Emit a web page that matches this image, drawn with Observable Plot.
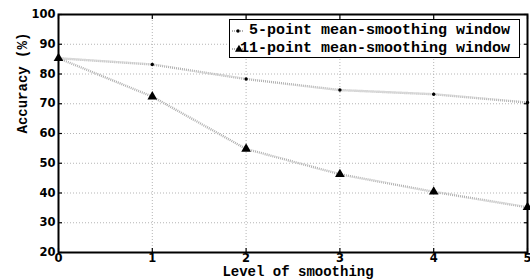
<!DOCTYPE html>
<html>
<head>
<meta charset="utf-8">
<script src="https://cdn.jsdelivr.net/npm/d3@7"></script>
<script src="https://cdn.jsdelivr.net/npm/@observablehq/plot@0.6"></script>
<style>
  html, body { margin: 0; padding: 0; background: #fff; }
  #wrap { position: relative; width: 530px; height: 280px; }
  #legend { position: absolute; left: 229px; top: 19px; width: 289px; height: 37px;
    border: 1.5px solid #000; background: #fff; box-sizing: content-box;
    font-family: "Liberation Mono", monospace; font-weight: bold; font-size: 15px; }
  .row { position: absolute; left: 0; right: 0; height: 18px; }
  .row svg { position: absolute; left: 0; top: 0; }
  .row span { position: absolute; right: 9px; top: 0; line-height: 18px; white-space: pre; }
</style>
</head>
<body>
<div id="wrap"><div id="chart"></div><div id="legend"></div></div>
<script>
const levels = [0, 1, 2, 3, 4, 5];
const fivePoint = [85.3, 83.2, 78.3, 74.6, 73.2, 70.4];
const elevenPoint = [85.3, 72.4, 54.8, 46.3, 40.4, 35.2];
const seriesNames = ["5-point mean-smoothing window", "11-point mean-smoothing window"];
const xTicks = [0, 1, 2, 3, 4, 5];
const yTicks = [20, 30, 40, 50, 60, 70, 80, 90, 100];

const d5 = levels.map((x, i) => ({x, y: fivePoint[i]}));
const d11 = levels.map((x, i) => ({x, y: elevenPoint[i]}));

const lineStyle = {stroke: "#b0b0b0", strokeWidth: 2.4, strokeDasharray: "1,1", strokeLinecap: "butt"};
const tickFont = {fontFamily: "DejaVu Sans", fontWeight: "bold", fontSize: 11.5};

const chart = Plot.plot({
  width: 530, height: 280,
  marginLeft: 58, marginRight: 3, marginTop: 14, marginBottom: 28,
  style: {fontFamily: "DejaVu Sans", fontWeight: "bold", fontSize: "12px", color: "#000", background: "#fff"},
  x: {domain: [0, 5]},
  y: {domain: [20, 100]},
  marks: [
    Plot.gridX(xTicks, {stroke: "#b5b5b5", strokeOpacity: 1, strokeDasharray: "1,2"}),
    Plot.gridY(yTicks, {stroke: "#b5b5b5", strokeOpacity: 1, strokeDasharray: "1,2"}),
    Plot.line(d5, {x: "x", y: "y", ...lineStyle}),
    Plot.line(d11, {x: "x", y: "y", ...lineStyle}),
    Plot.dot(d5, {x: "x", y: "y", r: 1.7, fill: "#000", stroke: null}),
    Plot.dot(d11, {x: "x", y: "y", r: 3.6, symbol: "triangle", fill: "#000", stroke: null}),
    Plot.axisX(xTicks, {anchor: "bottom", tickSize: 0, tickPadding: 1, label: null, ...tickFont}),
    Plot.axisY(yTicks, {anchor: "left", tickSize: 0, tickPadding: 3, label: null, ...tickFont}),
    Plot.axisX(xTicks, {anchor: "bottom", tickSize: -4, tickFormat: () => "", label: null, strokeWidth: 1.2}),
    Plot.axisX(xTicks, {anchor: "top", tickSize: -4, tickFormat: () => "", label: null, strokeWidth: 1.2}),
    Plot.axisY(yTicks, {anchor: "left", tickSize: -4, tickFormat: () => "", label: null, strokeWidth: 1.2}),
    Plot.axisY(yTicks, {anchor: "right", tickSize: -4, tickFormat: () => "", label: null, strokeWidth: 1.2}),
    Plot.frame({stroke: "#000", strokeWidth: 2}),
    Plot.text(["Accuracy (%)"], {frameAnchor: "left", rotate: -90, dx: -36, fontFamily: "Liberation Mono", fontWeight: "bold", fontSize: 14}),
    Plot.text(["Level of smoothing"], {frameAnchor: "bottom", dy: 23, dx: 5, fontFamily: "Liberation Mono", fontWeight: "bold", fontSize: 14})
  ]
});
document.getElementById("chart").appendChild(chart);

// legend
const legend = document.getElementById("legend");
seriesNames.forEach((name, i) => {
  const row = document.createElement("div");
  row.className = "row";
  row.style.top = (i === 0 ? 2 : 20) + "px";
  const svg = d3.create("svg").attr("width", 20).attr("height", 18);
  svg.append("line").attr("x1", 2).attr("x2", 14).attr("y1", 9).attr("y2", 9)
    .attr("stroke", "#b0b0b0").attr("stroke-width", 2.2).attr("stroke-dasharray", "1,1");
  if (i === 0) {
    svg.append("circle").attr("cx", 8).attr("cy", 9).attr("r", 1.7).attr("fill", "#000");
  } else {
    svg.append("path").attr("d", d3.symbol(d3.symbolTriangle, 28)()).attr("transform", "translate(9,9.5)").attr("fill", "#000");
  }
  row.appendChild(svg.node());
  const span = document.createElement("span");
  span.textContent = name;
  row.appendChild(span);
  legend.appendChild(row);
});
</script>
</body>
</html>
